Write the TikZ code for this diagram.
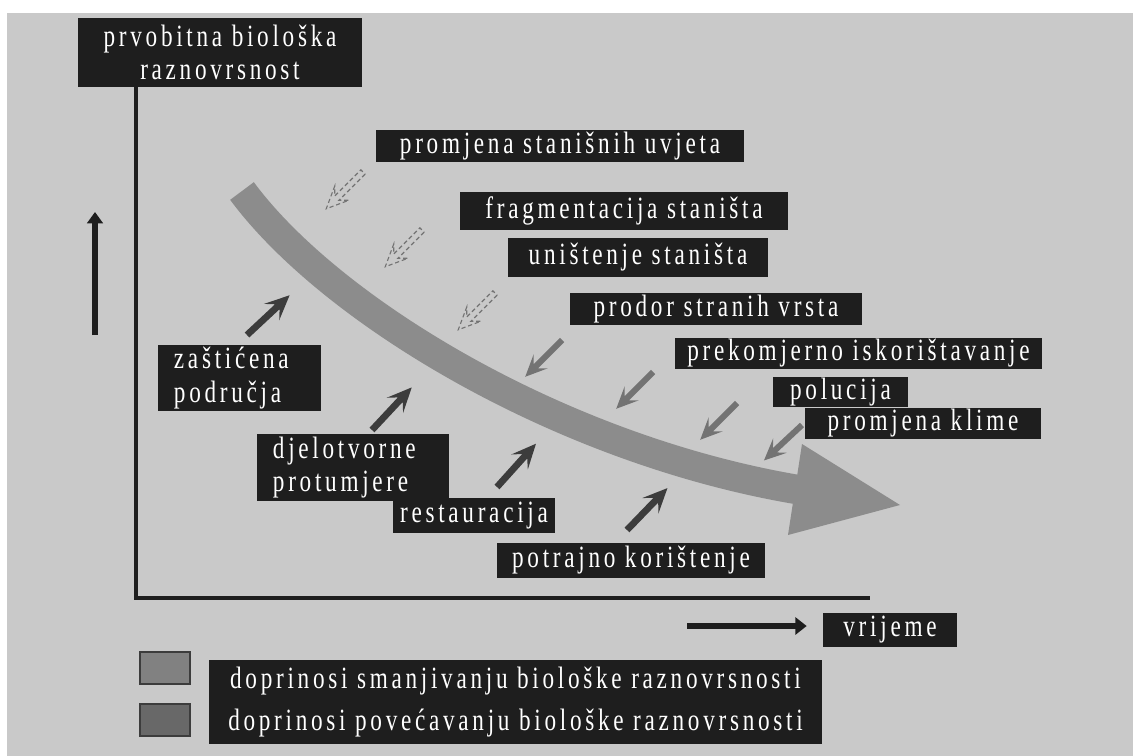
\documentclass[tikz,border=0pt]{standalone}
\usepackage{fontspec}
\usetikzlibrary{arrows.meta}
\newfontfamily\lblfont{Liberation Serif}[FakeStretch=0.75,LetterSpace=12]

\definecolor{paper}{RGB}{201,201,201}
\definecolor{boxblack}{RGB}{30,30,30}
\definecolor{trendgray}{RGB}{140,140,140}
\definecolor{lossgray}{RGB}{115,115,115}
\definecolor{gaingray}{RGB}{60,60,60}

\tikzset{
    lbl/.style={fill=boxblack, text=white, inner sep=0pt, align=center,
        font=\lblfont\fontsize{22}{24}\selectfont},
    lblleft/.style={lbl, inner xsep=0.4cm, align=left},
    axisline/.style={boxblack, line width=3.5pt},
    swatch/.style={draw=gaingray, line width=1.5pt, fill=lossgray!90!white,
        minimum width=1.25cm, minimum height=0.8cm, inner sep=0pt},
    pics/slimarrow/.style={code={
        \path[pic actions] (0,-3) -- (37,-3) -- (30,-10) -- (52,0)
            -- (30,10) -- (37,3) -- (0,3) -- cycle;
    }},
    lossopen/.style={draw=lossgray, densely dashed, line width=0.8pt},
    losssolid/.style={fill=lossgray},
    gainsolid/.style={fill=gaingray, scale=1.12},
}

\begin{document}
\begin{tikzpicture}[x=0.025cm, y=-0.025cm]
    \useasboundingbox (0,0) rectangle (1133,756);
    \fill[paper] (7,13) rectangle (1133,756);

    % Axes
    \node[lbl, minimum width=7.1cm, minimum height=1.725cm] (prvobitna) at (220,52.5)
        {prvobitna biološka\\raznovrsnost};
    \coordinate (origin) at (136,598);
    \coordinate (xend) at (870,598);
    \draw[axisline] (prvobitna.south -| origin) |- (xend);

    \coordinate (upfoot) at (95,335);
    \coordinate (uptip) at (95,212);
    \draw[axisline, line width=4pt, -{Triangle[length=8pt,width=11pt]}] (upfoot) -- (uptip);

    \node[lbl, minimum width=3.35cm, minimum height=0.85cm] (vrijeme) at (890,630) {vrijeme};
    \coordinate (timefoot) at (687,626);
    \draw[axisline, line width=4.3pt, -{Triangle[length=8pt,width=12pt]}]
        (timefoot) -- ([xshift=-0.4cm]vrijeme.west |- timefoot);

    % Trend of biodiversity
    \draw[trendgray, line width=21pt] (242,191) .. controls (330,310) and (560,450) .. (800,490);
    \fill[trendgray] (802,444) -- (900,505) -- (788,535) -- cycle;

    % Threats
    \node[lbl, minimum width=9.2cm, minimum height=0.8cm] (uvjeti) at (560,146) {promjena stanišnih uvjeta};
    \node[lbl, minimum width=8.2cm, minimum height=0.95cm] (fragmentacija) at (624,211) {fragmentacija staništa};
    \node[lbl, minimum width=6.5cm, minimum height=0.975cm] (unistenje) at (638,257.5) {uništenje staništa};
    \node[lbl, minimum width=7.3cm, minimum height=0.8cm] (prodor) at (716,309) {prodor stranih vrsta};
    \node[lbl, minimum width=9.175cm, minimum height=0.775cm] (iskoristavanje) at (858.5,353.5) {prekomjerno iskorištavanje};
    \node[lbl, minimum width=3.375cm, minimum height=0.75cm] (polucija) at (840.5,392) {polucija};
    \node[lbl, minimum width=5.9cm, minimum height=0.775cm] (klima) at (923,423.5) {promjena klime};

    \foreach \tx/\ty in {363/172, 422/230, 495/293}
        \pic[lossopen, rotate=225] at (\tx,\ty) {slimarrow};
    \foreach \tx/\ty/\ang in {562/340/225, 653/372/225, 737/403/225, 802/425/223}
        \pic[losssolid, rotate=\ang] at (\tx,\ty) {slimarrow};

    % Countermeasures
    \node[lblleft, text width=3.275cm, minimum height=1.65cm] (zasticena) at (239.5,378) {zaštićena\\područja};
    \node[lblleft, text width=4cm, minimum height=1.675cm] (protumjere) at (353,467.5) {djelotvorne\\protumjere};
    \node[lbl, minimum width=4.05cm, minimum height=0.875cm] (restauracija) at (474,515.5) {restauracija};
    \node[lbl, minimum width=6.7cm, minimum height=0.875cm] (koristenje) at (631,560.5) {potrajno korištenje};

    \foreach \tx/\ty/\ang in {247/335/43, 372/430/47, 497/487/48, 627/530/46}
        \pic[gainsolid, rotate=\ang] at (\tx,\ty) {slimarrow};

    % Legend
    \node[swatch] (losskey) at (165,668) {};
    \node[swatch, fill=lossgray!80!gaingray] (gainkey) at (165,720) {};
    \node[lbl, minimum width=15.325cm, minimum height=1.05cm] (lossnote) at (515.5,681)
        {doprinosi smanjivanju biološke raznovrsnosti};
    \node[lbl, minimum width=15.325cm, minimum height=1.05cm] (gainnote) at (515.5,723)
        {doprinosi povećavanju biološke raznovrsnosti};
\end{tikzpicture}
\end{document}
